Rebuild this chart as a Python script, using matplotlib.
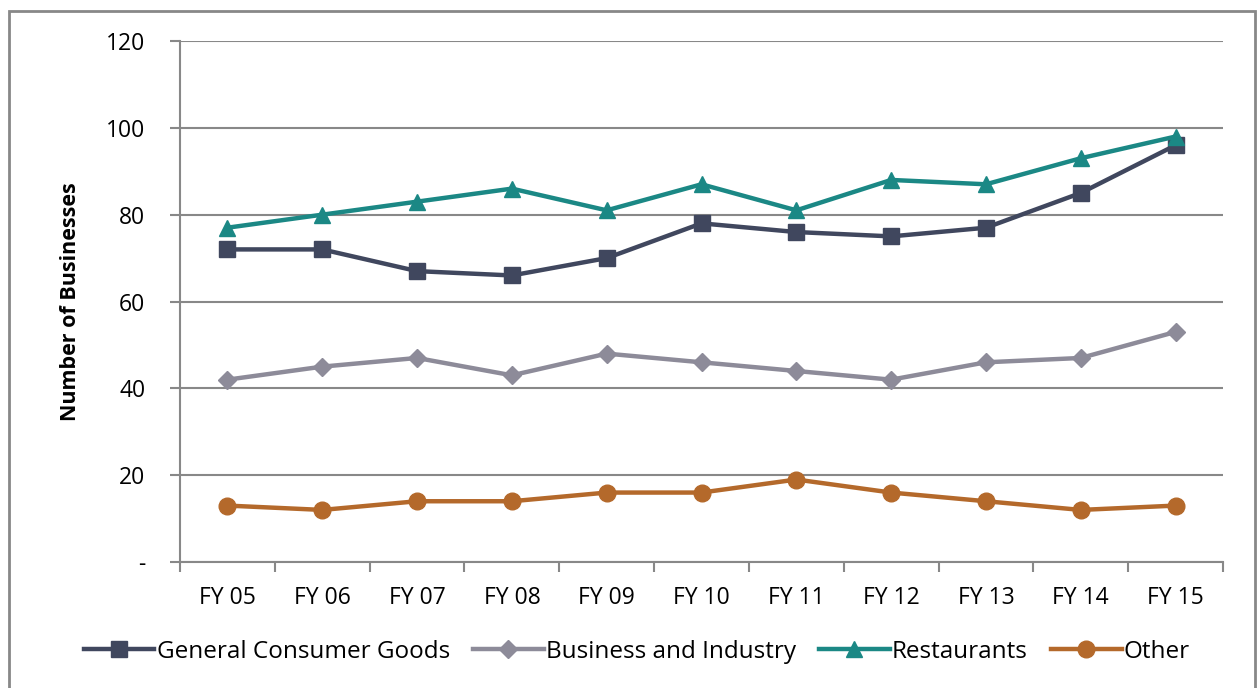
import matplotlib.pyplot as plt
from matplotlib.patches import Rectangle
from matplotlib.ticker import FixedLocator, FuncFormatter

plt.rcParams['font.family'] = ['Open Sans', 'DejaVu Sans']

# data per fiscal year
years = ['FY 05', 'FY 06', 'FY 07', 'FY 08', 'FY 09', 'FY 10',
         'FY 11', 'FY 12', 'FY 13', 'FY 14', 'FY 15']
consumer_goods = [72, 72, 67, 66, 70, 78, 76, 75, 77, 85, 96]
business_industry = [42, 45, 47, 43, 48, 46, 44, 42, 46, 47, 53]
restaurants = [77, 80, 83, 86, 81, 87, 81, 88, 87, 93, 98]
other = [13, 12, 14, 14, 16, 16, 19, 16, 14, 12, 13]

series = [
    ('General Consumer Goods', consumer_goods, '#40475e', 's', 11.5),
    ('Business and Industry', business_industry, '#8d8b99', 'D', 9),
    ('Restaurants', restaurants, '#1b8885', '^', 11),
    ('Other', other, '#b4692b', 'o', 12),
]

fig = plt.figure(figsize=(12.58, 6.88), dpi=100)
ax = fig.add_axes([0.1431, 0.1831, 0.8291, 0.7573])

x = list(range(len(years)))
for name, vals, color, marker, ms in series:
    ax.plot(x, vals, color=color, lw=3.2, marker=marker, ms=ms,
            mec=color, mfc=color, label=name, zorder=3)

ax.set_xlim(-0.5, len(years) - 0.5)
ax.set_ylim(0, 120)

# category labels centred, tick marks on the boundaries
ax.set_xticks(x)
ax.set_xticklabels(years, fontsize=16.5)
ax.tick_params(axis='x', which='major', length=0, pad=17)
ax.xaxis.set_minor_locator(FixedLocator([i - 0.5 for i in range(len(years) + 1)]))
ax.tick_params(axis='x', which='minor', length=7, width=1.5, color='#888888')

ax.set_yticks(range(0, 121, 20))
ax.yaxis.set_major_formatter(FuncFormatter(lambda v, p: '-' if v == 0 else f'{v:.0f}'))
ax.tick_params(axis='y', length=7, width=1.5, color='#888888', pad=18, labelsize=16.5)

ax.grid(axis='y', color='#888888', lw=1.5, zorder=0)
ax.set_axisbelow(True)
for s in ['top', 'right']:
    ax.spines[s].set_visible(False)
for s in ['left', 'bottom']:
    ax.spines[s].set_color('#888888')
    ax.spines[s].set_linewidth(1.5)

ax.set_ylabel('Number of Businesses', fontsize=15.5, fontweight='bold', labelpad=18)

fig.legend(loc='center', bbox_to_anchor=(637 / 1258, 1 - 652 / 688), ncol=4, frameon=False,
           fontsize=17.5, handlelength=2.9, handletextpad=0.1, columnspacing=0.95,
           borderaxespad=0)

# outer frame around the chart
fig.patches.append(Rectangle((9 / 1258, -0.02), 1246 / 1258, 1.02 - 11 / 688,
                             transform=fig.transFigure, fill=False,
                             edgecolor='#888888', lw=2))

fig.savefig('out.png', dpi=100)
